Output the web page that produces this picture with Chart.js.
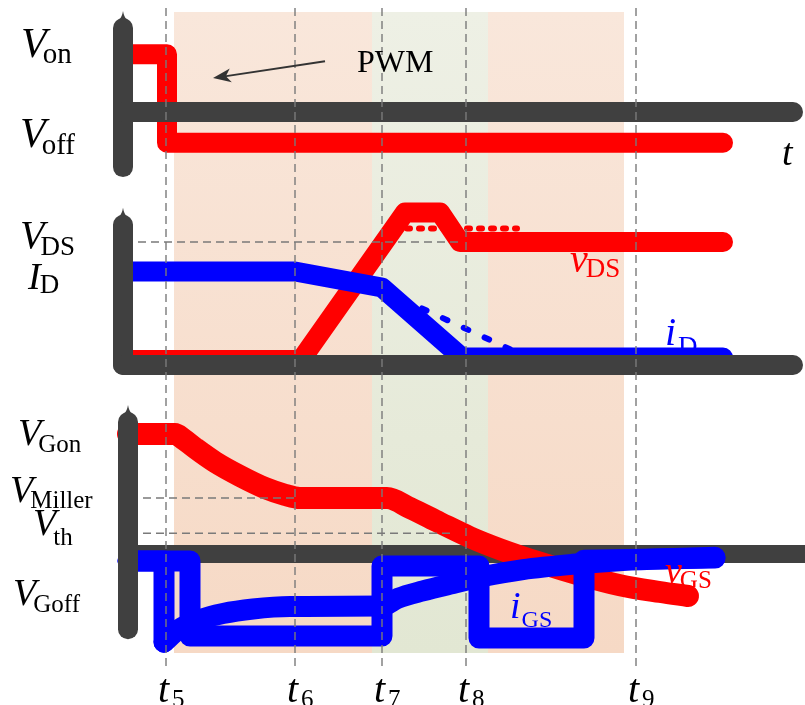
<!DOCTYPE html>
<html>
<head>
<meta charset="utf-8">
<script src="https://cdn.jsdelivr.net/npm/chart.js@4.4.0/dist/chart.umd.min.js"></script>
<style>
  html, body { margin: 0; padding: 0; background: #fff; }
  #wrap { width: 805px; height: 705px; position: relative; }
</style>
</head>
<body>
<div id="wrap"><canvas id="waves"></canvas></div>
<script>
// switching instants t5..t9 (time axis, arbitrary units)
const tMarks = [4.3, 17.2, 25.9, 34.3, 51.3];
const tNames = ['5', '6', '7', '8', '9'];

// shaded intervals
const zoneStart = [5.1, 24.9, 36.5];
const zoneEnd = [24.9, 36.5, 50.1];
const zoneKind = ['orange', 'green', 'orange'];

// gate command (V)
const V_ON = 15, V_OFF = -8;
const pwmT = [0, 4.4, 4.4, 60];
const pwmV = [V_ON, V_ON, V_OFF, V_OFF];

// drain side, per unit of V_DS
const V_DS = 1.0, I_D = 0.76;
const vdsT = [0, 17.8, 28.2, 31.7, 33.7, 60];
const vdsV = [0.04, 0.04, 1.24, 1.24, V_DS, V_DS];
const vdsDotT = [28.4, 39.4];
const vdsDotV = [1.11, 1.11];
const idT = [0, 17.2, 25.9, 33.9, 60];
const idV = [I_D, I_D, 0.63, 0.06, 0.06];
const idDotT = [29.9, 40.5];
const idDotV = [0.46, 0.06];

// gate voltage (V)
const V_GON = 15, V_MILLER = 7, V_TH = 2.6, V_GOFF = -5;
const vgsT = [0.5, 5.2, 6.0, 7.2, 9.2, 11.7, 14.2, 16.2, 17.7, 26.4, 28.7, 31.7, 34.7, 37.7, 41.7, 45.7, 49.7, 53.7, 56.5];
const vgsV = [15, 15, 14.4, 13.25, 11.5, 9.75, 8.25, 7.4, 7.0, 7.0, 5.75, 3.9, 2.1, 0.6, -1.1, -2.6, -3.9, -4.75, -5.25];

// gate current (A): pulses and the slow recovering trace
const igsT = [0.5, 6.7, 6.7, 25.9, 25.9, 35.6, 35.6, 46.1, 46.1, 59.2];
const igsV = [-0.17, -0.17, -2.0, -2.0, -0.29, -0.29, -2.05, -2.05, -0.15, -0.1];
const igsStepT = [0.5, 4.1, 4.1];
const igsStepV = [-0.17, -0.17, -2.15];
const igsSlowT = [4.1, 5.5, 7.7, 10.0, 13.0, 16.7, 25.9, 27.5, 30.0, 33.0, 36.0, 40.0, 45.0, 50.0, 55.0, 59.2];
const igsSlowV = [-2.15, -1.85, -1.6, -1.45, -1.34, -1.28, -1.27, -1.08, -0.9, -0.72, -0.55, -0.38, -0.25, -0.16, -0.11, -0.08];

// ---- layout ----
const W = 805, H = 705;
const X0 = 123, XPER = 10;            // time 0 sits at 123px, 10px per unit
const panels = {
  yCmd:   { zero: 112, per: 3.85 },
  yDrain: { zero: 365, per: 123 },
  yGate:  { zero: 554, per: 8 },
  yIgs:   { zero: 554, per: 41 }
};
const BAND_TOP = 12, BAND_BOTTOM = 653;
const GUIDE_TOP = 8, GUIDE_BOTTOM = 668;
const T_BASE = 702;

const RED = '#ff0000', BLUE = '#0000ff', AXIS = '#404040', GUIDE = '#7a7a7a';
const SERIF = '"Liberation Serif", "Times New Roman", serif';

const pts = (t, v) => t.map((x, i) => ({ x, y: v[i] }));

function trace(data, axis, color, width, order, extra) {
  return Object.assign({
    data, yAxisID: axis, borderColor: color, borderWidth: width, order,
    showLine: true, pointRadius: 0, fill: false,
    borderCapStyle: 'round', borderJoinStyle: 'round'
  }, extra || {});
}

const yScales = {};
for (const id in panels) {
  const p = panels[id];
  yScales[id] = { type: 'linear', display: false, max: p.zero / p.per, min: -(H - p.zero) / p.per };
}

function bar(ctx, x1, y1, x2, y2, w) {
  ctx.save();
  ctx.strokeStyle = AXIS;
  ctx.lineWidth = w;
  ctx.lineCap = 'round';
  ctx.beginPath();
  ctx.moveTo(x1, y1);
  ctx.lineTo(x2, y2);
  ctx.stroke();
  ctx.restore();
}

function vAxis(ctx, x, yTop, yBot) {
  bar(ctx, x, yTop, x, yBot, 20);
  // small arrow tip on top
  ctx.save();
  ctx.fillStyle = AXIS;
  ctx.beginPath();
  ctx.moveTo(x - 4, yTop - 8);
  ctx.quadraticCurveTo(x - 1, yTop - 11, x, yTop - 17);
  ctx.quadraticCurveTo(x + 1, yTop - 11, x + 4, yTop - 8);
  ctx.closePath();
  ctx.fill();
  ctx.restore();
}

function dashed(ctx, x1, y1, x2, y2) {
  ctx.save();
  ctx.strokeStyle = GUIDE;
  ctx.lineWidth = 1.4;
  ctx.setLineDash([8, 5]);
  ctx.beginPath();
  ctx.moveTo(x1, y1);
  ctx.lineTo(x2, y2);
  ctx.stroke();
  ctx.restore();
}

function sym(ctx, x, y, main, sub, size, subSize, color, drop, gap) {
  ctx.save();
  ctx.fillStyle = color;
  ctx.textBaseline = 'alphabetic';
  ctx.font = `italic ${size}px ${SERIF}`;
  ctx.fillText(main, x, y);
  const w = ctx.measureText(main).width;
  ctx.font = `${subSize}px ${SERIF}`;
  ctx.fillText(sub, x + w + gap, y + drop);
  ctx.restore();
}

const decor = {
  id: 'decor',
  beforeDatasetsDraw(chart) {
    const { ctx, scales } = chart;
    const x = scales.x, yG = scales.yGate;
    zoneStart.forEach((s, i) => {
      const g = ctx.createLinearGradient(0, BAND_TOP, 0, BAND_BOTTOM);
      if (zoneKind[i] === 'orange') {
        g.addColorStop(0, '#f9e7db');
        g.addColorStop(1, '#f6d9c5');
      } else {
        g.addColorStop(0, '#eef0e5');
        g.addColorStop(1, '#e2e7d3');
      }
      ctx.fillStyle = g;
      const a = x.getPixelForValue(s), b = x.getPixelForValue(zoneEnd[i]);
      ctx.fillRect(a, BAND_TOP, b - a, BAND_BOTTOM - BAND_TOP);
    });
    // gate panel time axis sits under the traces
    bar(ctx, x.getPixelForValue(0.5), yG.getPixelForValue(0), x.getPixelForValue(68.5), yG.getPixelForValue(0), 18);
  },
  afterDatasetsDraw(chart) {
    const { ctx, scales } = chart;
    const x = scales.x, yC = scales.yCmd, yD = scales.yDrain, yG = scales.yGate, yI = scales.yIgs;
    const px = v => x.getPixelForValue(v);

    // axes of the command and drain panels
    vAxis(ctx, px(0), yC.getPixelForValue(21.8), yC.getPixelForValue(-14.3));
    bar(ctx, px(0), yC.getPixelForValue(0), px(67), yC.getPixelForValue(0), 20);
    vAxis(ctx, px(0), yD.getPixelForValue(1.14), yD.getPixelForValue(0));
    bar(ctx, px(0), yD.getPixelForValue(0), px(67), yD.getPixelForValue(0), 20);
    vAxis(ctx, px(0.5), yG.getPixelForValue(16.5), yG.getPixelForValue(-9.4));

    // guide lines
    tMarks.forEach(t => dashed(ctx, px(t), GUIDE_TOP, px(t), GUIDE_BOTTOM));
    dashed(ctx, px(1.5), yD.getPixelForValue(V_DS), px(34), yD.getPixelForValue(V_DS));
    dashed(ctx, px(2.0), yG.getPixelForValue(V_MILLER), px(17.5), yG.getPixelForValue(V_MILLER));
    dashed(ctx, px(2.0), yG.getPixelForValue(V_TH), px(33), yG.getPixelForValue(V_TH));

    // level names
    sym(ctx, 21, yC.getPixelForValue(V_ON) + 3, 'V', 'on', 42, 29, '#000', 6, -4);
    sym(ctx, 20, yC.getPixelForValue(V_OFF) + 4, 'V', 'off', 42, 29, '#000', 7, -4);
    sym(ctx, 20, yD.getPixelForValue(V_DS) + 6, 'V', 'DS', 40, 27, '#000', 7, -4);
    sym(ctx, 28, yD.getPixelForValue(I_D) + 17, 'I', 'D', 38, 27, '#000', 4, -1);
    sym(ctx, 18, yG.getPixelForValue(V_GON) + 11, 'V', 'Gon', 38, 25, '#000', 7, -3);
    sym(ctx, 10, yG.getPixelForValue(V_MILLER) + 4, 'V', 'Miller', 38, 25, '#000', 6, -3);
    sym(ctx, 33, yG.getPixelForValue(V_TH) + 2, 'V', 'th', 38, 25, '#000', 10, -3);
    sym(ctx, 13, yG.getPixelForValue(V_GOFF) + 11, 'V', 'Goff', 38, 25, '#000', 7, -3);

    // trace names
    sym(ctx, px(44.7), yD.getPixelForValue(0.76), 'v', 'DS', 40, 27, RED, 5, -2);
    sym(ctx, px(54.2), yD.getPixelForValue(0.16), 'i', 'D', 40, 27, BLUE, 10, 2);
    sym(ctx, px(54.2), yG.getPixelForValue(-3.6), 'v', 'GS', 38, 25, RED, 5, -2);
    sym(ctx, px(38.7), yI.getPixelForValue(-1.56), 'i', 'GS', 38, 24, BLUE, 9, 1);

    // time labels
    tMarks.forEach((t, i) => sym(ctx, px(t) - 8, T_BASE, 't', tNames[i], 40, 25, '#000', 5, 3));
    ctx.save();
    ctx.fillStyle = '#000';
    ctx.font = `italic 38px ${SERIF}`;
    ctx.fillText('t', px(65.9), yC.getPixelForValue(-13.8));

    // PWM note with arrow
    ctx.font = `32px ${SERIF}`;
    ctx.fillText('PWM', px(23.4), yC.getPixelForValue(10.4));
    const ax1 = px(20.2), ay1 = yC.getPixelForValue(13.2);
    const ax2 = px(9.0), ay2 = yC.getPixelForValue(8.8);
    const ang = Math.atan2(ay2 - ay1, ax2 - ax1);
    const c = Math.cos(ang), s = Math.sin(ang);
    ctx.strokeStyle = '#333';
    ctx.fillStyle = '#333';
    ctx.lineWidth = 2;
    ctx.beginPath();
    ctx.moveTo(ax1, ay1);
    ctx.lineTo(ax2 - 10 * c, ay2 - 10 * s);
    ctx.stroke();
    ctx.beginPath();
    ctx.moveTo(ax2, ay2);
    ctx.lineTo(ax2 - 18 * c + 7 * s, ay2 - 18 * s - 7 * c);
    ctx.lineTo(ax2 - 13 * c, ay2 - 13 * s);
    ctx.lineTo(ax2 - 18 * c - 7 * s, ay2 - 18 * s + 7 * c);
    ctx.closePath();
    ctx.fill();
    ctx.restore();
  }
};

new Chart(document.getElementById('waves'), {
  type: 'scatter',
  data: {
    datasets: [
      trace(pts(vgsT, vgsV), 'yGate', RED, 22, 10, { cubicInterpolationMode: 'monotone' }),
      trace(pts(igsStepT, igsStepV), 'yIgs', BLUE, 21, 9),
      trace(pts(igsSlowT, igsSlowV), 'yIgs', BLUE, 21, 9, { cubicInterpolationMode: 'monotone' }),
      trace(pts(igsT, igsV), 'yIgs', BLUE, 21, 8),
      trace(pts(vdsT, vdsV), 'yDrain', RED, 20, 7),
      trace(pts(vdsDotT, vdsDotV), 'yDrain', RED, 6, 6, { borderDash: [3, 9] }),
      trace(pts(idT, idV), 'yDrain', BLUE, 20, 5),
      trace(pts(idDotT, idDotV), 'yDrain', BLUE, 6, 4, { borderDash: [5, 18] }),
      trace(pts(pwmT, pwmV), 'yCmd', RED, 20, 3)
    ]
  },
  options: {
    responsive: true,
    maintainAspectRatio: false,
    animation: false,
    layout: { padding: 0 },
    plugins: { legend: { display: false }, tooltip: { enabled: false } },
    scales: Object.assign({
      x: { type: 'linear', display: false, min: -X0 / XPER, max: (W - X0) / XPER }
    }, yScales)
  },
  plugins: [decor]
});
</script>
</body>
</html>
